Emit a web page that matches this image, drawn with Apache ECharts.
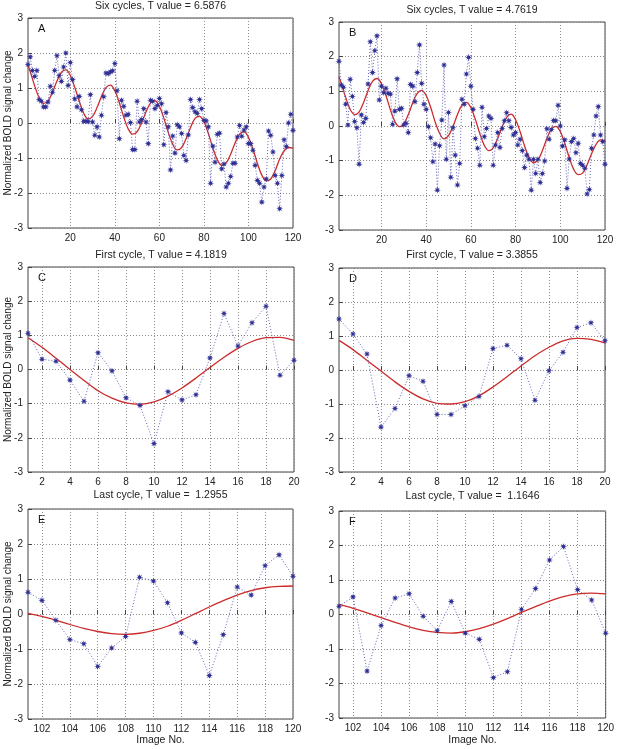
<!DOCTYPE html>
<html><head><meta charset="utf-8">
<script src="https://cdn.jsdelivr.net/npm/echarts@6/dist/echarts.min.js"></script>
<style>html,body{margin:0;padding:0;background:#fff}#c{width:617px;height:749px}</style>
</head><body><div id="c"></div>
<script>
const FONT = "'Liberation Sans', Arial, Helvetica, sans-serif";

// ---- tick labels ----
const ticksSix = [20, 40, 60, 80, 100, 120];
const ticksFirst = [2, 4, 6, 8, 10, 12, 14, 16, 18, 20];
const ticksLast = [102, 104, 106, 108, 110, 112, 114, 116, 118, 120];

// ---- panel A: six cycles, images 1..120 ----
const sixA = [1.67,1.89,1.50,1.33,1.50,0.67,0.62,0.46,0.46,0.60,
  1.05,0.88,1.50,1.92,1.35,1.19,1.60,2.00,1.07,1.73,
  1.24,0.69,0.46,0.76,0.38,0.05,0.05,0.04,0.81,0.03,
  -0.35,-0.11,-0.40,0.22,0.75,1.43,1.41,1.46,1.49,1.70,
  0.92,-0.45,0.65,0.48,0.22,0.25,0.01,-0.76,-0.76,0.62,
  0.03,0.10,0.41,0.03,-0.59,0.65,0.62,0.41,0.50,0.70,
  0.55,-0.62,0.30,-0.11,-1.34,-0.37,-0.86,-0.05,-0.11,-0.30,
  -0.93,-1.07,-0.34,0.67,0.44,0.32,0.27,0.67,0.41,0.08,
  0.06,-0.11,-1.72,-0.66,-1.12,-0.32,-0.29,-1.31,-1.17,-1.83,
  -1.72,-1.53,-1.15,-1.15,-0.40,-0.07,-0.38,-0.20,-0.11,-0.59,
  -0.59,-0.78,-1.21,-1.64,-1.72,-2.26,-1.83,-1.60,-0.23,-0.35,
  -0.83,-1.50,-1.72,-2.45,-1.50,-0.48,-0.67,0.00,0.25,-0.21];

// ---- panel B: six cycles, images 1..120 ----
const sixB = [1.87,1.18,1.12,0.63,0.03,1.35,0.85,0.13,-0.05,-1.10,
  0.32,0.10,0.22,1.21,2.43,1.54,2.17,2.60,0.75,1.15,
  0.96,1.09,0.94,0.92,0.05,0.43,1.36,0.48,0.51,0.03,
  0.08,-0.19,1.20,1.15,0.70,1.54,2.34,1.23,0.63,0.48,
  -0.02,-0.34,-1.03,-0.52,-1.85,-0.57,0.17,1.76,-0.96,0.39,
  -1.48,-0.05,-0.84,-1.70,-1.08,0.77,0.63,1.50,1.98,1.15,
  0.48,-0.36,-0.64,-1.13,0.54,-0.31,-0.07,0.29,0.22,-1.13,
  -0.55,-0.19,-0.62,-0.07,0.15,0.38,0.15,-0.04,-0.26,-0.19,
  -0.55,-0.38,-0.71,-1.20,-0.84,-0.96,-1.85,-0.96,-1.37,-0.96,
  -1.63,-1.37,-1.01,-0.08,-0.38,-0.10,0.16,0.15,0.60,0.00,
  -0.58,-0.40,-1.80,-0.95,-0.45,-0.36,-0.77,-0.50,-1.08,-1.13,
  -1.22,-1.96,-1.83,-0.64,-0.26,0.29,0.56,-0.26,-0.45,-1.10];

// fitted curves of panels A and B, sampled at these image numbers
const fitSixX = [1,2,4,6,8,10,12,14,16,18,20,22,24,26,28,30,32,34,36,38,40,
  42,44,46,48,50,52,54,56,58,60,62,64,66,68,70,72,74,76,78,80,
  82,84,86,88,90,92,94,96,98,100,102,104,106,108,110,112,114,116,118,120];
const fitA = [1.65,1.47,1.06,0.72,0.56,0.63,0.88,1.20,1.45,1.52,1.36,
  1.02,0.62,0.28,0.12,0.19,0.44,0.76,1.01,1.08,0.92,
  0.58,0.17,-0.17,-0.32,-0.25,0.00,0.32,0.57,0.64,0.48,
  0.14,-0.27,-0.61,-0.77,-0.70,-0.45,-0.13,0.13,0.19,0.04,
  -0.30,-0.71,-1.05,-1.21,-1.14,-0.89,-0.57,-0.32,-0.25,-0.41,
  -0.74,-1.15,-1.49,-1.65,-1.60,-1.36,-1.03,-0.80,-0.70,-0.72];
const fitB = [1.42,1.23,0.82,0.48,0.33,0.41,0.68,1.02,1.29,1.37,1.22,
  0.88,0.47,0.13,-0.02,0.06,0.33,0.67,0.94,1.03,0.88,
  0.54,0.12,-0.21,-0.37,-0.28,-0.01,0.33,0.60,0.68,0.53,
  0.19,-0.22,-0.56,-0.71,-0.63,-0.36,-0.02,0.25,0.34,0.18,
  -0.16,-0.57,-0.91,-1.06,-0.98,-0.71,-0.36,-0.09,-0.01,-0.16,
  -0.50,-0.91,-1.25,-1.40,-1.36,-1.12,-0.80,-0.53,-0.40,-0.42];

// ---- panels C, D: first cycle, images 1..20 ----
const firstC = [1.06,0.30,0.24,-0.31,-0.93,0.49,-0.04,-0.83,-1.05,-2.17,
  -0.65,-0.89,-0.74,0.34,1.64,0.69,1.37,1.85,-0.17,0.27];
const fitC = [0.93,0.65,0.33,0.00,-0.32,-0.62,-0.84,-0.98,-1.02,-0.95,
  -0.78,-0.54,-0.25,0.06,0.36,0.62,0.82,0.93,0.94,0.85];
const firstD = [1.50,1.06,0.47,-1.68,-1.13,-0.17,-0.33,-1.31,-1.31,-1.05,
  -0.78,0.63,0.73,0.33,-0.89,-0.02,0.52,1.25,1.39,0.86];
const fitD = [0.87,0.60,0.28,-0.03,-0.35,-0.63,-0.85,-0.98,-1.00,-0.93,
  -0.76,-0.50,-0.20,0.12,0.42,0.67,0.86,0.93,0.90,0.80];

// ---- panels E, F: last cycle, images 101..120 ----
const lastE = [0.62,0.39,-0.18,-0.73,-0.85,-1.50,-0.97,-0.64,1.05,0.94,
  0.32,-0.54,-0.81,-1.76,-0.59,0.77,0.54,1.38,1.69,1.08];
const fitE = [0.02,-0.07,-0.18,-0.30,-0.41,-0.50,-0.56,-0.58,-0.55,-0.47,
  -0.35,-0.18,0.01,0.20,0.38,0.54,0.67,0.75,0.79,0.80];
const lastF = [0.24,0.51,-1.64,-0.32,0.48,0.60,-0.05,-0.47,0.38,-0.54,
  -0.72,-1.83,-1.66,0.15,0.75,1.58,1.97,0.72,0.42,-0.54];
const fitF = [0.29,0.18,0.05,-0.09,-0.23,-0.36,-0.46,-0.52,-0.54,-0.50,
  -0.41,-0.28,-0.12,0.06,0.23,0.39,0.52,0.60,0.62,0.60];

const panels = [
  {letter:'A', g:{left:28, top:18, width:265, height:210}, x0:1, x1:120, ticks:ticksSix, pts:sixA, fx:fitSixX, fit:fitA,
   title:'Six cycles, T value = 6.5876', ty:6},
  {letter:'B', g:{left:339, top:22, width:266, height:208}, x0:1, x1:120, ticks:ticksSix, pts:sixB, fx:fitSixX, fit:fitB,
   title:'Six cycles, T value = 4.7619', ty:10},
  {letter:'C', g:{left:28, top:267, width:266, height:205}, x0:1, x1:20, ticks:ticksFirst, pts:firstC, fx:null, fit:fitC,
   title:'First cycle, T value = 4.1819', ty:255},
  {letter:'D', g:{left:339, top:268, width:266, height:204}, x0:1, x1:20, ticks:ticksFirst, pts:firstD, fx:null, fit:fitD,
   title:'First cycle, T value = 3.3855', ty:255},
  {letter:'E', g:{left:28, top:509, width:265, height:210}, x0:101, x1:120, ticks:ticksLast, pts:lastE, fx:null, fit:fitE,
   title:'Last cycle, T value =  1.2955', ty:495},
  {letter:'F', g:{left:339, top:511, width:267, height:207}, x0:101, x1:120, ticks:ticksLast, pts:lastF, fx:null, fit:fitF,
   title:'Last cycle, T value =  1.1646', ty:496}
];

const STAR = 'path://M20 10 L13.7 8.47 L17.07 2.93 L11.53 6.3 L10 0 L8.47 6.3 L2.93 2.93 L6.3 8.47 L0 10 L6.3 11.53 L2.93 17.07 L8.47 13.7 L10 20 L11.53 13.7 L17.07 17.07 L13.7 11.53 Z';

const grids = [], xAxes = [], yAxes = [], series = [], graphic = [];
panels.forEach((p, i) => {
  grids.push(Object.assign({show:true, borderColor:'#444', borderWidth:1, backgroundColor:'rgba(0,0,0,0)'}, p.g));
  xAxes.push({gridIndex:i, type:'value', min:p.x0, max:p.x1,
    axisLine:{show:false},
    axisTick:{show:true, inside:true, length:4, customValues:p.ticks, lineStyle:{color:'#444'}},
    axisLabel:{customValues:p.ticks, fontSize:10, color:'#222', margin:5, fontFamily:FONT},
    splitLine:{show:true, lineStyle:{type:[1, 2], color:'#8a8a8a', width:1}}});
  yAxes.push({gridIndex:i, type:'value', min:-3, max:3, interval:1,
    axisLine:{show:false},
    axisTick:{show:true, inside:true, length:4, lineStyle:{color:'#444'}},
    axisLabel:{fontSize:10, color:'#222', margin:5, fontFamily:FONT},
    splitLine:{show:true, lineStyle:{type:[1, 2], color:'#8a8a8a', width:1}}});
  const fitData = p.fit.map((v, k) => [p.fx ? p.fx[k] : p.x0 + k, v]);
  series.push({type:'line', xAxisIndex:i, yAxisIndex:i, data:fitData, symbol:'none',
    smooth: p.fx ? 0.35 : 0.3, lineStyle:{color:'#cc2b2b', width:1.3}, z:2, silent:true});
  series.push({type:'line', xAxisIndex:i, yAxisIndex:i, data:p.pts.map((v, k) => [p.x0 + k, v]),
    symbol:STAR, symbolSize:7, showSymbol:true,
    lineStyle:{type:[1, 2], color:'#6464b8', width:1},
    itemStyle:{color:'#2f2f95'}, z:3, silent:true});
  const cx = p.g.left + p.g.width / 2;
  graphic.push({type:'text', x:cx, y:p.ty, style:{text:p.title, fill:'#222', font:'10.5px ' + FONT, textAlign:'center', textVerticalAlign:'middle'}});
  graphic.push({type:'text', x:p.g.left + 10, y:p.g.top + 11, style:{text:p.letter, fill:'#111', font:'11px ' + FONT, textAlign:'left', textVerticalAlign:'middle'}});
  if (i % 2 === 0) {
    graphic.push({type:'text', x:8, y:p.g.top + p.g.height / 2, rotation:Math.PI / 2,
      style:{text:'Normalized BOLD signal change', fill:'#222', font:'10px ' + FONT, textAlign:'center', textVerticalAlign:'middle'}});
  }
  if (i >= 4) {
    graphic.push({type:'text', x:cx, y:740, style:{text:'Image No.', fill:'#222', font:'10.5px ' + FONT, textAlign:'center', textVerticalAlign:'middle'}});
  }
});

const chart = echarts.init(document.getElementById('c'), null, {renderer:'canvas'});
chart.setOption({animation:false, backgroundColor:'#fff', grid:grids, xAxis:xAxes, yAxis:yAxes, series:series, graphic:graphic});
</script></body></html>
